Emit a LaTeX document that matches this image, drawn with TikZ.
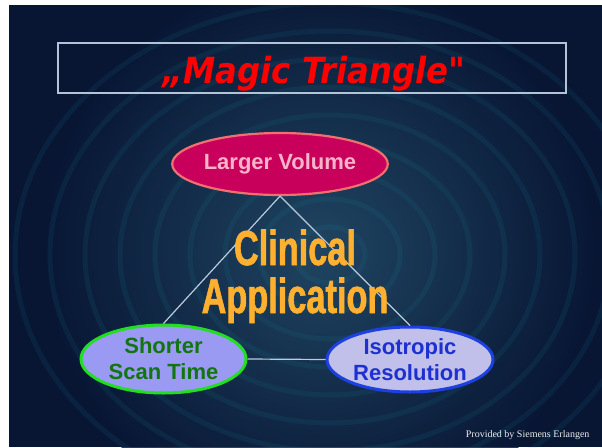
\documentclass[tikz,border=0pt]{standalone}
\usepackage{fontspec}
\setmainfont{Liberation Sans}
\newfontfamily\titlefont[FakeStretch=0.9]{DejaVu Sans}
\newfontfamily\narrowfont[FakeStretch=0.7,FakeBold=1.2]{Liberation Sans}
\newfontfamily\creditfont{Liberation Serif}
\usetikzlibrary{shapes.geometric}

\definecolor{bgnavy}{HTML}{081634}
\definecolor{bgteal}{HTML}{244E6A}
\definecolor{framegray}{HTML}{B4C4D8}
\definecolor{titlered}{HTML}{FF0000}
\definecolor{volfill}{HTML}{C8005C}
\definecolor{voldraw}{HTML}{F07070}
\definecolor{voltext}{HTML}{F8B4C8}
\definecolor{scanfill}{HTML}{9A9AF2}
\definecolor{scandraw}{HTML}{22DD22}
\definecolor{scantext}{HTML}{127512}
\definecolor{isofill}{HTML}{C0C0EA}
\definecolor{isodraw}{HTML}{1E40E0}
\definecolor{isotext}{HTML}{1E30D0}
\definecolor{clinorange}{HTML}{FFB02E}

\begin{document}
\begin{tikzpicture}[x=1pt,y=-1pt]
  \tikzstyle{bubble}=[ellipse,inner sep=0pt,align=center,font=\bfseries\fontsize{22}{26}\selectfont];
  \tikzstyle{edge}=[framegray!90!white,line width=1.2];
  \tikzstyle{bigword}=[anchor=base,text=clinorange,font=\narrowfont\bfseries\fontsize{49}{49}\selectfont];

  \useasboundingbox (0,0) rectangle (602,447);
  \fill[white] (0,0) rectangle (602,447);

  % background
  \begin{scope}
    \clip (9,5) rectangle (602,447);
    \fill[bgnavy] (9,5) rectangle (602,447);
    \shade[inner color=bgteal,outer color=bgnavy,opacity=0.85] (320,250) circle (280pt);
    \foreach \r in {35,70,...,315}
      \draw[bgteal!60!cyan,line width=5,opacity=0.1] (330,255) ellipse (\r pt and 0.8*\r pt);
  \end{scope}

  % title
  \draw[framegray,line width=1.6] (58,43) rectangle (566,93);
  \node[anchor=base,text=titlered,font=\titlefont\bfseries\itshape\fontsize{36}{36}\selectfont] (title) at (314,83) {„Magic Triangle"};

  % corners
  \node[bubble,minimum width=212pt,minimum height=62pt,fill=volfill,draw=voldraw,line width=2.2,text=voltext] (vol) at (280,164) {Larger Volume};
  \node[bubble,minimum width=165pt,minimum height=68pt,fill=scanfill,draw=scandraw,line width=3,text=scantext] (scan) at (163.5,359) {Shorter\\Scan Time};
  \node[bubble,minimum width=166pt,minimum height=65pt,fill=isofill,draw=isodraw,line width=3,text=isotext] (iso) at (410,359.5) {Isotropic\\Resolution};

  % triangle
  \draw[edge] (vol.south) -- (scan.north);
  \draw[edge] (vol.south) -- (iso.north);
  \draw[edge] (scan.east) -- (iso.west);

  % centre text
  \node[bigword] (clin) at (295,265) {Clinical};
  \node[bigword] (app) at (295,313) {Application};

  % credit
  \node[anchor=base east,text=white!85!gray,font=\creditfont\fontsize{10}{10}\selectfont] (credit) at (593,437) {Provided by Siemens Erlangen};
\end{tikzpicture}
\end{document}
